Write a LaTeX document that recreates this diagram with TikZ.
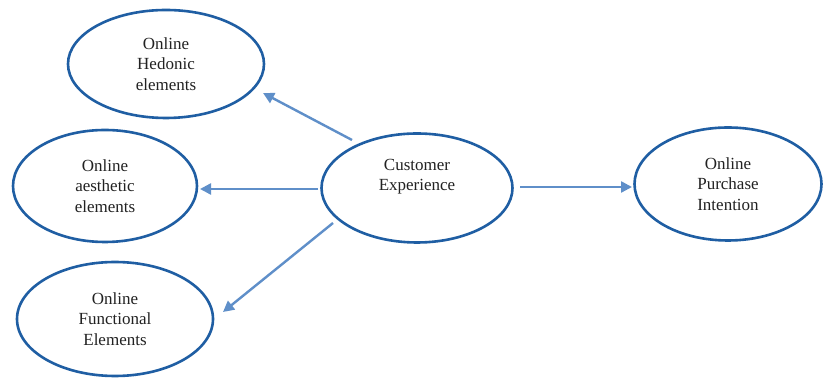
\documentclass[tikz,border=0pt]{standalone}
\usepackage{fontspec}
\setmainfont{Liberation Serif}
\usetikzlibrary{arrows.meta,shapes.geometric}
\definecolor{ellblue}{HTML}{1F5EA3}
\definecolor{arrblue}{HTML}{5F8FC9}
\definecolor{txt}{HTML}{222222}
\begin{document}
\begin{tikzpicture}[x=1pt,y=1pt,
  ell/.style={ellipse,draw=ellblue,line width=2.6pt,inner sep=0pt,
    text=txt,align=center,font=\fontsize{17}{20.5}\selectfont},
  arr/.style={draw=arrblue,line width=2.4pt,
    -{Triangle[length=11pt,width=11pt]}}]
\path[fill=white] (0,0) rectangle (834,379);
\useasboundingbox (0,0) rectangle (834,379);
\node[ell,minimum width=196pt,minimum height=108pt] (hed) at (166,315) {Online\\Hedonic\\elements};
\node[ell,minimum width=184pt,minimum height=112pt] (aes) at (105,193) {Online\\aesthetic\\elements};
\node[ell,minimum width=196pt,minimum height=114pt] (fun) at (115,60) {Online\\Functional\\Elements};
\node[ell,minimum width=191pt,minimum height=109pt] (ce) at (417,191) {Customer\\Experience\\[6pt]};
\node[ell,minimum width=187pt,minimum height=113pt] (opi) at (728,195) {Online\\Purchase\\Intention};
\draw[arr] ([shift={(-65,48)}]ce.center) -- ([shift={(97,-29)}]hed.center);
\draw[arr] ([shift={(-99,-1)}]ce.center) -- ([shift={(95,-3)}]aes.center);
\draw[arr] ([shift={(-84,-35)}]ce.center) -- ([shift={(108,7)}]fun.center);
\draw[arr] ([shift={(103,1)}]ce.center) -- ([shift={(-96,-3)}]opi.center);
\end{tikzpicture}
\end{document}
